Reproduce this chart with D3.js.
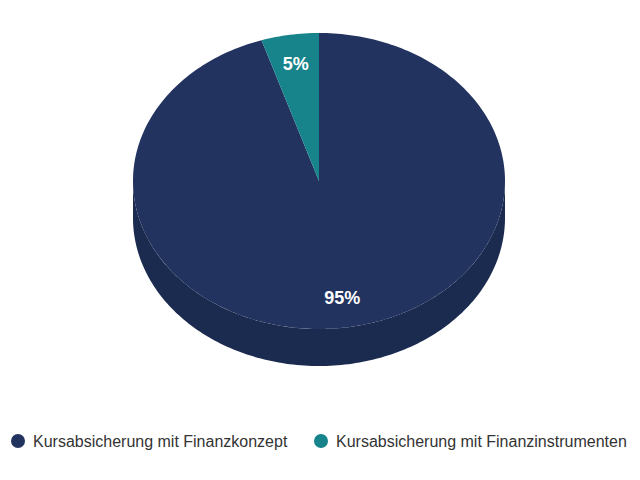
<!DOCTYPE html>
<html>
<head>
<meta charset="utf-8">
<script src="https://cdn.jsdelivr.net/npm/d3@7"></script>
<style>
  body { margin: 0; background: #fff; }
  svg { display: block; font-family: "Liberation Sans", Arial, sans-serif; }
</style>
</head>
<body>
<svg width="640" height="480"></svg>
<script>
// data
var categories = ['Kursabsicherung mit Finanzkonzept', 'Kursabsicherung mit Finanzinstrumenten']
var values = [95, 5]
var topColors = ['#22335f', '#17838a']
var sideColors = ['#1b2a4f', '#116168']

var width = 640, height = 480
var cx = 319, cy = 181, rx = 186, ry = 148, depth = 37

var svg = d3.select('svg')

var color = d3.scaleOrdinal().domain(categories).range(topColors)
var sideColor = d3.scaleOrdinal().domain(categories).range(sideColors)

var pie = d3.pie().sort(null).value(function(d) { return d.value })
var arcs = pie(categories.map(function(c, i) { return { name: c, value: values[i] } }))

// point on ellipse, angle clockwise from 12 o'clock
function pt(a, r, dy) {
    return [cx + rx * r * Math.sin(a), cy - ry * r * Math.cos(a) + (dy || 0)]
}

function sample(a0, a1, dy) {
    var n = Math.max(2, Math.ceil(Math.abs(a1 - a0) / 0.02))
    var pts = []
    for (var i = 0; i <= n; i++) pts.push(pt(a0 + (a1 - a0) * i / n, 1, dy))
    return pts
}

var line = d3.line()

// side walls (front half only: angles between PI/2 and 3PI/2)
svg.append('g').selectAll('path')
    .data(arcs)
    .enter()
    .append('path')
    .attr('d', function(d) {
        var a0 = Math.max(d.startAngle, Math.PI / 2)
        var a1 = Math.min(d.endAngle, Math.PI * 3 / 2)
        if (a1 <= a0) return null
        var topEdge = sample(a0, a1, 0)
        var bottomEdge = sample(a1, a0, depth)
        return line(topEdge.concat(bottomEdge)) + 'Z'
    })
    .attr('fill', function(d) { return sideColor(d.data.name) })

// top face
svg.append('g').selectAll('path')
    .data(arcs)
    .enter()
    .append('path')
    .attr('d', function(d) {
        var pts = [[cx, cy]].concat(sample(d.startAngle, d.endAngle, 0))
        return line(pts) + 'Z'
    })
    .attr('fill', function(d) { return color(d.data.name) })

// labels
svg.append('g').selectAll('text')
    .data(arcs)
    .enter()
    .append('text')
    .attr('x', function(d) { return pt((d.startAngle + d.endAngle) / 2, 0.8)[0] })
    .attr('y', function(d) { return pt((d.startAngle + d.endAngle) / 2, 0.8)[1] })
    .attr('text-anchor', 'middle')
    .attr('dy', '0.35em')
    .attr('fill', '#fff')
    .attr('font-size', 18)
    .attr('font-weight', 'bold')
    .text(function(d) { return d.data.value + '%' })

// legend
var legendX = [18, 321]
var legend = svg.append('g').selectAll('g')
    .data(categories)
    .enter()
    .append('g')
    .attr('transform', function(d, i) { return 'translate(' + legendX[i] + ',441)' })

legend.append('circle')
    .attr('r', 7)
    .attr('fill', function(d) { return color(d) })

legend.append('text')
    .attr('x', 15)
    .attr('dy', '0.35em')
    .attr('font-size', 16)
    .attr('fill', '#333')
    .text(function(d) { return d })
</script>
</body>
</html>
